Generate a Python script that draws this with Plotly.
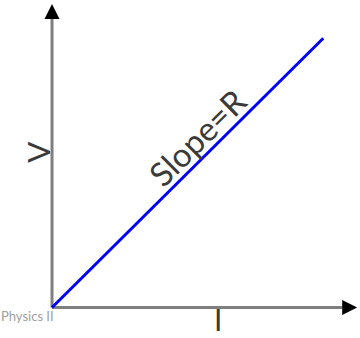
import plotly.graph_objects as go

# Ohmic conductor: V = R * I (straight line through the origin)
current = [0, 10]
voltage = [0, 10]

# Axis extents (arrow tips) in data units
i_axis_tip = 11.25
v_axis_tip = 11.27
head_len = 0.55  # arrow head length in data units

axis_grey = "#7f7f7f"
text_dark = "#3a3a3a"

fig = go.Figure()

# Axis shafts (grey), ending at the base of the black arrow heads
fig.add_trace(go.Scatter(
    x=[0, 0], y=[0, v_axis_tip - head_len],
    mode="lines", line=dict(color=axis_grey, width=3),
    hoverinfo="skip"))
fig.add_trace(go.Scatter(
    x=[0, i_axis_tip - head_len], y=[0, 0],
    mode="lines", line=dict(color=axis_grey, width=3),
    hoverinfo="skip"))

# V-I characteristic
fig.add_trace(go.Scatter(
    x=current, y=voltage,
    mode="lines", line=dict(color="#0000ff", width=3),
    hoverinfo="skip"))

annotations = [
    # arrow heads
    dict(x=0, y=v_axis_tip, ax=0, ay=v_axis_tip - head_len,
         xref="x", yref="y", axref="x", ayref="y", text="",
         showarrow=True, arrowhead=2, arrowsize=1, arrowwidth=3,
         arrowcolor="#000000"),
    dict(x=i_axis_tip, y=0, ax=i_axis_tip - head_len, ay=0,
         xref="x", yref="y", axref="x", ayref="y", text="",
         showarrow=True, arrowhead=2, arrowsize=1, arrowwidth=3,
         arrowcolor="#000000"),
    # axis labels
    dict(x=-0.52, y=5.78, text="V", textangle=-90, showarrow=False,
         font=dict(family="Lato", size=31, color=text_dark),
         xanchor="center", yanchor="middle"),
    dict(x=6.12, y=-1.133, text="I", showarrow=False,
         font=dict(family="Lato", size=30, color=text_dark),
         xanchor="center", yanchor="bottom", borderpad=0),
    # slope label along the line
    dict(x=5.35, y=6.33, text="Slope=R", textangle=-44.8, showarrow=False,
         font=dict(family="Lato", size=33, color=text_dark),
         xanchor="center", yanchor="middle"),
    # footer
    dict(x=0, y=-0.30, xref="paper", text="Physics II", showarrow=False,
         font=dict(family="Lato", size=13, color="#a0a0a0"),
         xanchor="left", yanchor="middle", borderpad=0),
]

fig.update_layout(
    width=360, height=338,
    margin=dict(l=0, r=0, t=0, b=0),
    paper_bgcolor="white", plot_bgcolor="white",
    showlegend=False,
    annotations=annotations,
    xaxis=dict(range=[-1.917, 11.353], visible=False, fixedrange=True),
    yaxis=dict(range=[-1.133, 11.423], visible=False, fixedrange=True),
)

fig.write_html("out.html")
